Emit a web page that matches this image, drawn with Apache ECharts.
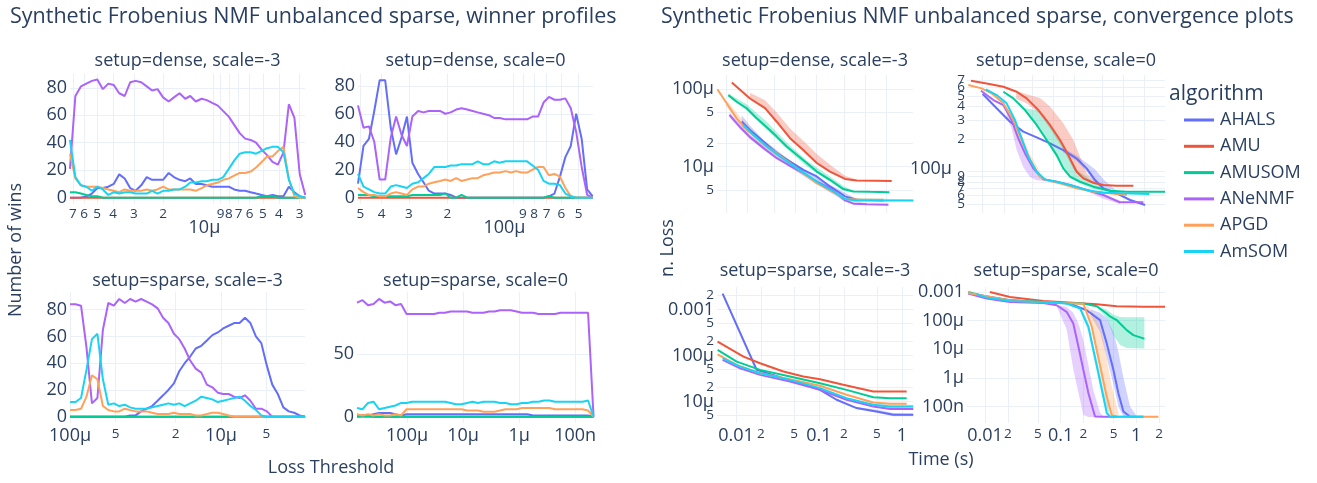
<!DOCTYPE html>
<html>
<head>
<meta charset="utf-8">
<script src="https://cdn.jsdelivr.net/npm/echarts@6/dist/echarts.min.js"></script>
<style>
  html, body { margin: 0; padding: 0; background: #ffffff; }
  #chart { width: 1317px; height: 483px; }
</style>
</head>
<body>
<div id="chart"></div>
<script>
// ---------- algorithms ----------
const algorithms = ['AHALS', 'AMU', 'AMUSOM', 'ANeNMF', 'APGD', 'AmSOM'];
const algoColors = ['#636efa', '#EF553B', '#00cc96', '#ab63fa', '#FFA15A', '#19d3f3'];

// ---------- winner profiles: loss thresholds per facet ----------
const thrDenseM3 = [7.30e-5, 6.77e-5, 6.27e-5, 5.81e-5, 5.38e-5, 4.99e-5, 4.62e-5, 4.28e-5, 3.97e-5, 3.68e-5,
  3.41e-5, 3.16e-5, 2.93e-5, 2.71e-5, 2.51e-5, 2.33e-5, 2.16e-5, 2.00e-5, 1.85e-5, 1.72e-5,
  1.59e-5, 1.47e-5, 1.37e-5, 1.27e-5, 1.17e-5, 1.09e-5, 1.01e-5, 9.34e-6, 8.66e-6, 8.02e-6,
  7.44e-6, 6.89e-6, 6.39e-6, 5.92e-6, 5.49e-6, 5.08e-6, 4.71e-6, 4.37e-6, 4.05e-6, 3.75e-6,
  3.48e-6, 3.22e-6, 2.99e-6, 2.77e-6];
const thrDenseZ = [5.13e-4, 4.84e-4, 4.57e-4, 4.32e-4, 4.08e-4, 3.85e-4, 3.63e-4, 3.43e-4, 3.24e-4, 3.06e-4,
  2.89e-4, 2.72e-4, 2.57e-4, 2.43e-4, 2.29e-4, 2.16e-4, 2.04e-4, 1.93e-4, 1.82e-4, 1.72e-4,
  1.62e-4, 1.53e-4, 1.45e-4, 1.37e-4, 1.29e-4, 1.22e-4, 1.15e-4, 1.08e-4, 1.02e-4, 9.66e-5,
  9.12e-5, 8.61e-5, 8.13e-5, 7.67e-5, 7.24e-5, 6.84e-5, 6.45e-5, 6.09e-5, 5.75e-5, 5.43e-5,
  5.13e-5, 4.84e-5, 4.57e-5, 4.31e-5];
const thrSparseM3 = [1.00e-4, 9.20e-5, 8.46e-5, 7.79e-5, 7.16e-5, 6.59e-5, 6.06e-5, 5.58e-5, 5.13e-5, 4.72e-5,
  4.34e-5, 4.00e-5, 3.68e-5, 3.38e-5, 3.11e-5, 2.86e-5, 2.63e-5, 2.42e-5, 2.23e-5, 2.05e-5,
  1.89e-5, 1.74e-5, 1.60e-5, 1.47e-5, 1.35e-5, 1.24e-5, 1.14e-5, 1.05e-5, 9.67e-6, 8.90e-6,
  8.19e-6, 7.53e-6, 6.93e-6, 6.38e-6, 5.87e-6, 5.40e-6, 4.96e-6, 4.57e-6, 4.20e-6, 3.86e-6,
  3.55e-6, 3.27e-6, 3.01e-6, 2.77e-6];
const thrSparseZ = [7.82e-4, 6.24e-4, 4.97e-4, 3.97e-4, 3.16e-4, 2.52e-4, 2.01e-4, 1.61e-4, 1.28e-4, 1.02e-4,
  8.15e-5, 6.50e-5, 5.19e-5, 4.14e-5, 3.30e-5, 2.63e-5, 2.10e-5, 1.68e-5, 1.34e-5, 1.07e-5,
  8.51e-6, 6.79e-6, 5.42e-6, 4.32e-6, 3.45e-6, 2.75e-6, 2.19e-6, 1.75e-6, 1.40e-6, 1.11e-6,
  8.88e-7, 7.09e-7, 5.65e-7, 4.51e-7, 3.60e-7, 2.87e-7, 2.29e-7, 1.82e-7, 1.46e-7, 1.16e-7,
  9.26e-8, 7.39e-8, 5.89e-8, 4.70e-8];

// ---------- winner profiles: number of wins (order = algorithms) ----------
const winsDenseM3 = [
  [0,0,0,1,3,7,7,8,10,17,14,7,5,9,15,13,13,13,18,15,13,12,14,10,10,9,8,8,8,8,6,5,5,4,3,2,1,2,1,1,8,4,1,0],
  [0,0,0,0,0,0,0,0,0,0,0,0,0,0,0,0,0,0,0,0,0,0,0,0,0,0,0,0,0,0,0,0,0,0,0,0,0,0,0,0,0,0,0,0],
  [4,4,3,2,1,1,0,0,0,0,0,0,0,0,0,0,0,0,0,0,0,0,0,0,0,0,0,0,0,0,0,0,0,0,0,1,1,1,0,0,0,0,0,0],
  [21,74,81,83,85,86,79,83,82,76,74,84,85,84,81,78,79,73,70,73,76,72,74,70,72,71,69,67,63,59,53,47,43,42,40,35,31,26,24,33,68,58,17,2],
  [32,14,9,8,8,8,7,6,5,4,6,5,5,5,6,5,6,8,6,6,6,6,6,5,7,9,10,11,13,14,16,18,18,19,22,26,30,30,34,37,14,1,0,0],
  [42,15,9,8,5,8,6,2,4,3,4,4,3,3,3,5,3,5,5,6,6,8,11,11,12,12,13,13,15,21,27,32,33,33,32,34,36,37,37,33,13,3,1,0]
];
const winsDenseZ = [
  [10,37,42,62,84,84,50,31,43,58,25,17,11,5,3,3,3,2,0,0,0,0,0,0,0,0,0,0,0,0,0,0,0,0,0,1,3,15,29,37,60,42,6,1],
  [0,0,0,0,0,0,0,0,0,0,0,0,0,0,0,0,0,0,0,0,0,0,0,0,0,0,0,0,0,0,0,0,0,0,0,0,0,0,0,0,0,0,0,0],
  [2,2,2,1,1,1,1,1,1,1,2,2,2,2,2,2,3,0,0,2,0,0,0,0,0,0,0,0,0,0,0,0,0,0,0,1,0,0,0,0,0,0,0,0],
  [66,50,51,40,13,13,43,58,45,37,58,62,61,62,62,62,60,61,63,64,63,62,61,60,59,57,57,56,56,56,56,56,58,58,68,72,70,70,71,64,47,22,2,0],
  [7,4,2,2,1,1,3,4,3,2,6,8,8,10,11,12,13,12,14,12,13,14,14,16,17,18,18,19,18,19,18,18,20,22,22,16,17,15,7,1,0,0,0,0],
  [17,8,6,4,3,3,8,9,8,7,10,11,14,17,22,22,22,23,23,24,24,24,26,24,24,26,25,26,26,26,26,26,23,20,12,10,10,9,3,1,0,0,0,0]
];
const winsSparseM3 = [
  [0,0,0,0,0,0,0,0,0,0,0,1,1,4,6,8,12,16,20,25,34,40,45,51,53,57,61,63,66,68,70,70,74,70,60,55,38,24,17,7,4,3,1,0],
  [0,0,0,0,0,0,0,0,0,0,0,0,0,0,0,0,0,0,0,0,0,0,0,0,0,0,0,0,0,0,0,0,0,0,0,0,0,0,0,0,0,0,0,0],
  [0,0,0,0,0,0,0,0,0,0,0,0,0,0,0,0,0,0,0,0,0,0,0,0,0,0,0,0,0,0,0,0,0,0,0,0,0,0,0,0,0,0,0,0],
  [84,84,83,52,10,14,65,85,83,88,85,88,86,88,86,84,81,74,70,62,58,51,42,36,33,24,22,18,17,17,15,14,16,12,6,6,4,0,0,0,0,0,0,0],
  [5,5,6,15,31,28,8,5,4,4,6,5,4,4,4,3,2,2,2,3,2,2,2,1,1,2,3,3,2,1,0,0,0,0,0,0,0,0,0,0,0,0,0,0],
  [11,11,14,35,58,62,28,9,10,8,9,7,6,6,6,7,8,9,10,9,10,8,10,12,15,14,13,11,12,13,14,15,12,8,5,1,0,0,0,0,0,0,0,0]
];
const winsSparseZ = [
  [0,1,1,2,3,3,3,2,1,2,2,2,2,2,2,2,2,2,2,2,2,2,2,2,2,2,2,2,2,2,2,2,1,1,1,1,1,1,1,1,1,1,1,0],
  [1,1,1,0,0,0,0,0,0,0,0,0,0,0,0,0,0,0,0,0,0,0,0,0,0,0,0,0,0,0,0,0,0,0,0,0,0,0,0,0,0,0,0,0],
  [0,0,0,0,0,0,0,0,0,0,0,0,0,0,0,0,0,0,0,0,0,0,0,0,0,0,0,0,0,0,0,0,0,0,0,0,0,0,0,0,0,0,0,0],
  [91,93,89,90,94,91,92,89,90,82,82,82,82,82,82,83,83,84,84,84,84,83,83,83,84,84,85,85,85,84,83,83,83,82,82,82,82,83,83,83,83,83,83,0],
  [2,1,2,1,2,1,1,2,1,6,6,6,6,6,6,6,6,6,6,6,5,5,5,4,4,4,5,6,6,6,7,7,7,7,7,7,6,6,6,6,6,6,5,0],
  [7,6,11,12,6,7,8,9,11,11,12,12,12,12,12,12,12,11,10,10,11,12,11,12,12,12,11,11,10,10,11,11,12,12,13,13,12,12,12,12,12,12,13,0]
];

// ---------- convergence: [time (s), normalized loss] per algorithm ----------
const lossDenseM3 = [
  [[0.0168,3.82e-5],[0.0221,2.98e-5],[0.0345,2.1e-5],[0.0536,1.49e-5],[0.0834,1.16e-5],[0.129,9.06e-6],[0.202,7.43e-6],[0.313,5.52e-6],[0.515,4.1e-6],[0.759,3.71e-6],[1.84,3.64e-6]],
  [[0.0121,1.22e-4],[0.0221,7.6e-5],[0.0364,5.7e-5],[0.0536,3.8e-5],[0.0834,2.33e-5],[0.129,1.64e-5],[0.202,1.11e-5],[0.313,8.6e-6],[0.515,6.9e-6],[0.759,6.6e-6],[1.47,6.55e-6],[2.42,6.5e-6]],
  [[0.0108,8.4e-5],[0.0142,6.9e-5],[0.0198,5.68e-5],[0.0276,4.22e-5],[0.0385,3.23e-5],[0.0536,2.44e-5],[0.0746,1.82e-5],[0.104,1.42e-5],[0.145,1.11e-5],[0.202,8.6e-6],[0.313,6.73e-6],[0.487,5.1e-6],[0.679,4.75e-6],[1.18,4.7e-6],[2.24,4.65e-6]],
  [[0.0112,4.66e-5],[0.0159,3.23e-5],[0.0221,2.4e-5],[0.0345,1.73e-5],[0.0536,1.28e-5],[0.0834,1.02e-5],[0.129,8.2e-6],[0.202,6.4e-6],[0.313,5.26e-6],[0.515,3.64e-6],[0.679,3.3e-6],[1.06,3.25e-6],[2.17,3.2e-6]],
  [[0.0075,1.0e-4],[0.0102,6.6e-5],[0.0142,4.2e-5],[0.0198,3.0e-5],[0.0385,1.82e-5],[0.0834,1.11e-5],[0.202,6.1e-6],[0.515,3.8e-6],[0.946,3.71e-6],[1.84,3.7e-6]],
  [[0.0178,3.46e-5],[0.0247,2.57e-5],[0.0385,1.82e-5],[0.0598,1.35e-5],[0.093,1.02e-5],[0.145,7.8e-6],[0.225,5.98e-6],[0.35,4.75e-6],[0.515,3.79e-6],[0.759,3.64e-6],[1.84,3.64e-6],[4.96,3.64e-6]]
];
const lossDenseZ = [
  [[0.01,5.22e-4],[0.0158,3.85e-4],[0.0245,2.89e-4],[0.0378,2.34e-4],[0.0586,2.07e-4],[0.0906,1.82e-4],[0.14,1.58e-4],[0.217,1.32e-4],[0.301,1.07e-4],[0.396,8.34e-5],[0.52,6.99e-5],[0.805,6.28e-5],[1.25,5.45e-5],[2.04,4.9e-5]],
  [[0.00682,6.93e-4],[0.0114,6.55e-4],[0.0197,6.1e-4],[0.0304,5.48e-4],[0.0422,4.76e-4],[0.0619,3.71e-4],[0.0906,2.7e-4],[0.126,1.96e-4],[0.165,1.42e-4],[0.217,9.96e-5],[0.27,8.65e-5],[0.375,7.88e-5],[0.52,7.5e-5],[0.805,7.4e-5],[1.39,7.4e-5]],
  [[0.0197,5.48e-4],[0.0273,4.76e-4],[0.04,3.71e-4],[0.0586,2.7e-4],[0.0813,1.96e-4],[0.113,1.42e-4],[0.14,1.07e-4],[0.175,8.95e-5],[0.242,8.05e-5],[0.375,7.24e-5],[0.647,6.65e-5],[1.12,6.5e-5],[3.92,6.5e-5]],
  [[0.00946,5.6e-4],[0.0142,4.59e-4],[0.0197,4.13e-4],[0.0258,3.0e-4],[0.0321,2.03e-4],[0.04,1.47e-4],[0.0525,1.07e-4],[0.0728,8.46e-5],[0.113,8.05e-5],[0.175,7.5e-5],[0.301,6.74e-5],[0.52,6.06e-5],[0.897,5.19e-5],[1.93,5.19e-5]],
  [[0.00625,6.32e-4],[0.00967,5.89e-4],[0.0134,5.3e-4],[0.0197,4.28e-4],[0.0273,3.0e-4],[0.0358,1.96e-4],[0.0471,1.28e-4],[0.0653,8.95e-5],[0.0813,8.34e-5],[0.126,7.77e-5],[0.217,6.99e-5],[0.375,6.5e-5],[0.647,6.28e-5],[1.12,6.06e-5]],
  [[0.0111,5.77e-4],[0.0158,5.11e-4],[0.0219,4.28e-4],[0.0288,3.0e-4],[0.0358,2.03e-4],[0.0446,1.37e-4],[0.0586,9.96e-5],[0.077,8.46e-5],[0.113,8.05e-5],[0.175,7.5e-5],[0.301,6.74e-5],[0.52,6.37e-5],[1.0,6.28e-5],[2.35,6.19e-5]]
];
const lossSparseM3 = [
  [[0.0069,2.22e-3],[0.0177,4.9e-5],[0.0223,4.3e-5],[0.0372,3.2e-5],[0.059,2.5e-5],[0.103,1.79e-5],[0.163,1.09e-5],[0.284,7.18e-6],[0.495,6.08e-6],[0.787,5.15e-6],[1.37,5.15e-6]],
  [[0.006,2.0e-4],[0.0123,9.44e-5],[0.0195,6.77e-5],[0.0372,4.47e-5],[0.0647,3.48e-5],[0.103,3.05e-5],[0.196,2.3e-5],[0.451,1.65e-5],[0.717,1.65e-5],[1.14,1.65e-5]],
  [[0.006,1.32e-4],[0.0102,7.35e-5],[0.0195,4.86e-5],[0.0447,3.48e-5],[0.103,2.5e-5],[0.215,1.79e-5],[0.451,1.24e-5],[0.717,1.18e-5],[1.14,1.18e-5]],
  [[0.0069,8.0e-5],[0.0112,5.28e-5],[0.0195,3.79e-5],[0.0447,2.71e-5],[0.103,1.79e-5],[0.215,1.09e-5],[0.451,7.8e-6],[0.717,6.84e-6],[1.37,6.84e-6]],
  [[0.006,1.06e-4],[0.0102,6.23e-5],[0.0195,4.11e-5],[0.0447,3.05e-5],[0.103,2.19e-5],[0.215,1.4e-5],[0.451,9.53e-6],[0.717,8.9e-6],[1.14,8.9e-6]],
  [[0.0069,8.69e-5],[0.0112,5.73e-5],[0.0195,4.11e-5],[0.0447,2.95e-5],[0.103,1.95e-5],[0.215,1.18e-5],[0.451,8.49e-6],[0.717,7.8e-6],[1.37,7.8e-6]]
];
const lossSparseZ = [
  [[0.00602,9.0e-4],[0.0214,5.15e-4],[0.0591,4.5e-4],[0.133,3.94e-4],[0.221,2.31e-4],[0.332,1.04e-4],[0.407,1.6e-5],[0.499,1.89e-6],[0.58,2.92e-7],[0.676,6.7e-8],[0.828,4.4e-8],[1.24,4.4e-8]],
  [[0.0116,1.0e-3],[0.0214,6.7e-4],[0.0591,4.88e-4],[0.163,4.15e-4],[0.3,3.73e-4],[0.552,3.18e-4],[1.24,3.02e-4],[2.4,3.02e-4]],
  [[0.00602,1.0e-3],[0.0105,6.7e-4],[0.0214,5.15e-4],[0.0591,4.5e-4],[0.12,4.15e-4],[0.2,3.94e-4],[0.3,3.18e-4],[0.407,1.77e-4],[0.45,1.4e-4],[0.499,1.19e-4],[0.55,1.05e-4],[0.611,7.94e-5],[0.68,6.0e-5],[0.748,4.66e-5],[0.916,3.12e-5],[1.24,2.39e-5],[1.28,2.33e-5]],
  [[0.00602,8.77e-4],[0.0105,5.88e-4],[0.0214,4.5e-4],[0.0591,4.15e-4],[0.0887,3.44e-4],[0.12,2.02e-4],[0.147,7.94e-5],[0.172,1.22e-5],[0.2,1.89e-6],[0.233,2.92e-7],[0.285,4.5e-8],[0.367,4.4e-8],[0.552,4.4e-8]],
  [[0.00602,9.25e-4],[0.0214,5.0e-4],[0.0591,4.4e-4],[0.2,3.9e-4],[0.258,6.1e-5],[0.3,9.4e-6],[0.349,1.45e-6],[0.407,2.23e-7],[0.474,5.0e-8],[0.552,4.4e-8],[1.96,4.4e-8]],
  [[0.00776,8.3e-4],[0.0105,6.37e-4],[0.0214,4.88e-4],[0.0591,4.5e-4],[0.12,3.94e-4],[0.181,2.64e-4],[0.233,6.08e-5],[0.271,9.38e-6],[0.316,1.45e-6],[0.367,2.23e-7],[0.407,5.9e-8],[0.45,4.4e-8],[1.24,4.4e-8]]
];

// ---------- convergence spread: [algorithm index, [[time, low, high], ...]] ----------
const bandDenseM3 = [
  [1, [[0.0221,7.4e-5,9.0e-5],[0.0364,5.5e-5,7.2e-5],[0.0536,3.7e-5,5.0e-5],[0.0834,2.25e-5,3.1e-5],[0.129,1.6e-5,2.15e-5],[0.202,1.08e-5,1.45e-5],[0.313,8.4e-6,1.05e-5],[0.515,6.8e-6,7.6e-6],[0.759,6.5e-6,6.8e-6]]],
  [2, [[0.0108,8.0e-5,8.8e-5],[0.0198,5.3e-5,6.4e-5],[0.0385,3.0e-5,3.8e-5],[0.0746,1.7e-5,2.05e-5],[0.145,1.0e-5,1.2e-5],[0.313,6.3e-6,7.4e-6],[0.487,4.9e-6,5.6e-6],[0.679,4.65e-6,4.85e-6]]],
  [0, [[0.0168,3.3e-5,4.6e-5],[0.0221,2.7e-5,3.4e-5],[0.0345,1.95e-5,2.2e-5],[0.0834,1.1e-5,1.2e-5],[0.313,5.3e-6,5.8e-6],[0.759,3.6e-6,3.8e-6]]],
  [4, [[0.0102,6.0e-5,7.2e-5],[0.0142,3.9e-5,5.0e-5],[0.0198,2.6e-5,3.5e-5],[0.0385,1.65e-5,2.0e-5],[0.0834,1.0e-5,1.2e-5],[0.202,5.8e-6,6.4e-6]]],
  [3, [[0.0112,4.3e-5,5.0e-5],[0.0221,2.25e-5,2.55e-5],[0.0834,9.7e-6,1.07e-5],[0.515,3.5e-6,3.8e-6],[1.06,3.15e-6,3.35e-6]]],
  [5, [[0.0178,3.3e-5,3.6e-5],[0.093,9.8e-6,1.06e-5],[0.515,3.65e-6,3.95e-6],[4.9,3.55e-6,3.75e-6]]]
];
const bandDenseZ = [
  [1, [[0.03,4.7e-4,5.6e-4],[0.0422,4.3e-4,5.2e-4],[0.0653,3.4e-4,4.8e-4],[0.0906,2.5e-4,4.0e-4],[0.14,1.6e-4,2.8e-4],[0.195,1.05e-4,1.96e-4],[0.242,9.0e-5,1.37e-4],[0.301,8.2e-5,9.6e-5],[0.418,7.5e-5,7.9e-5]]],
  [2, [[0.04,3.6e-4,3.85e-4],[0.0586,2.6e-4,3.7e-4],[0.0906,1.7e-4,2.7e-4],[0.126,1.18e-4,1.96e-4],[0.156,9.5e-5,1.47e-4],[0.217,8.0e-5,1.04e-4],[0.35,7.0e-5,8.3e-5],[0.6,6.4e-5,6.8e-5]]],
  [3, [[0.022,3.2e-4,3.6e-4],[0.0258,2.5e-4,3.0e-4],[0.0304,1.58e-4,2.35e-4],[0.0378,1.1e-4,1.6e-4],[0.0471,8.9e-5,1.2e-4],[0.0586,8.3e-5,1.0e-4],[0.0728,8.2e-5,8.6e-5],[0.175,7.3e-5,7.6e-5],[0.301,6.6e-5,6.9e-5],[0.52,5.6e-5,6.2e-5],[0.897,5.0e-5,5.4e-5]]],
  [0, [[0.14,1.5e-4,1.65e-4],[0.217,1.25e-4,1.4e-4],[0.301,1.0e-4,1.2e-4],[0.396,7.8e-5,1.05e-4],[0.52,6.8e-5,8.5e-5],[0.805,6.0e-5,6.6e-5]]],
  [4, [[0.0273,2.4e-4,3.1e-4],[0.0358,1.7e-4,2.2e-4],[0.0471,1.15e-4,1.45e-4],[0.0653,8.5e-5,1.0e-4]]]
];
const bandSparseM3 = [
  [0, [[0.284,6.8e-6,7.6e-6],[0.495,5.7e-6,6.6e-6],[0.787,4.8e-6,5.6e-6],[1.37,4.8e-6,5.5e-6]]],
  [5, [[0.451,8.0e-6,9.0e-6],[0.717,7.3e-6,8.5e-6],[1.37,7.3e-6,8.5e-6]]],
  [3, [[0.451,7.4e-6,8.2e-6],[1.37,6.5e-6,7.2e-6]]]
];
const bandSparseZ = [
  [2, [[0.3,3.0e-4,3.4e-4],[0.407,1.2e-4,2.4e-4],[0.499,3.0e-5,1.6e-4],[0.611,1.4e-5,1.35e-4],[0.75,1.1e-5,1.3e-4],[1.28,1.07e-5,1.3e-4]]],
  [3, [[0.0887,3.2e-4,3.5e-4],[0.12,5e-5,3.0e-4],[0.147,2.0e-6,1.9e-4],[0.172,3.0e-7,8.0e-5],[0.2,5.0e-8,2.0e-5],[0.233,4.3e-8,2.7e-6],[0.271,4.3e-8,3.7e-7],[0.332,4.3e-8,6e-8],[0.367,4.3e-8,4.6e-8]]],
  [0, [[0.25,1.5e-4,2.5e-4],[0.332,4e-5,1.9e-4],[0.407,5e-6,1.2e-4],[0.499,6e-7,4e-5],[0.58,1e-7,8e-6],[0.676,4.5e-8,1e-6],[0.828,4.3e-8,1e-7],[1.0,4.3e-8,4.8e-8]]],
  [4, [[0.22,2.5e-4,3.5e-4],[0.258,5e-5,2.2e-4],[0.3,6e-6,1.2e-4],[0.349,8e-7,4e-5],[0.407,1e-7,5e-6],[0.474,4.5e-8,5e-7],[0.58,4.3e-8,6e-8]]],
  [5, [[0.181,2.3e-4,3.0e-4],[0.233,4e-5,9e-5],[0.271,6e-6,1.5e-5],[0.316,9e-7,2.5e-6],[0.367,1.4e-7,4e-7],[0.45,4.3e-8,5e-8]]]
];

// ---------- tick values and labels ----------
const winsTicks80 = [0, 20, 40, 60, 80];
const winsTicks50 = [0, 50];
const thrTicksDenseM3 = [7e-5, 6e-5, 5e-5, 4e-5, 3e-5, 2e-5, 1e-5, 9e-6, 8e-6, 7e-6, 6e-6, 5e-6, 4e-6, 3e-6];
const thrLabelsDenseM3 = ['7', '6', '5', '4', '3', '2', '10μ', '9', '8', '7', '6', '5', '4', '3'];
const thrTicksDenseZ = [5e-4, 4e-4, 3e-4, 2e-4, 1e-4, 9e-5, 8e-5, 7e-5, 6e-5, 5e-5];
const thrLabelsDenseZ = ['5', '4', '3', '2', '100μ', '9', '8', '7', '6', '5'];
const thrTicksSparseM3 = [1e-4, 5e-5, 2e-5, 1e-5, 5e-6];
const thrLabelsSparseM3 = ['100μ', '5', '2', '10μ', '5'];
const thrTicksSparseZ = [1e-4, 1e-5, 1e-6, 1e-7];
const thrLabelsSparseZ = ['100μ', '10μ', '1μ', '100n'];

const lossTicksDenseM3 = [1e-4, 5e-5, 2e-5, 1e-5, 5e-6];
const lossLabelsDenseM3 = ['100μ', '5', '2', '10μ', '5'];
const lossTicksDenseZ = [7e-4, 6e-4, 5e-4, 4e-4, 3e-4, 2e-4, 1e-4, 9e-5, 8e-5, 7e-5, 6e-5, 5e-5];
const lossLabelsDenseZ = ['7', '6', '5', '4', '3', '2', '100μ', '9', '8', '7', '6', '5'];
const lossTicksSparseM3 = [2e-3, 1e-3, 5e-4, 2e-4, 1e-4, 5e-5, 2e-5, 1e-5, 5e-6];
const lossLabelsSparseM3 = ['2', '0.001', '5', '2', '100μ', '5', '2', '10μ', '5'];
const lossTicksSparseZ = [1e-3, 1e-4, 1e-5, 1e-6, 1e-7];
const lossLabelsSparseZ = ['0.001', '100μ', '10μ', '1μ', '100n'];
const timeTicks = [0.01, 0.02, 0.05, 0.1, 0.2, 0.5, 1, 2];
const timeLabels = ['0.01', '2', '5', '0.1', '2', '5', '1', '2'];

// ---------- styling ----------
const FONT = '"Open Sans", verdana, arial, sans-serif';
const INK = '#2a3f5f';
const GRIDLINE = '#ebf0f8';
const L10 = Math.log10;

// horizontal axes: labels hang below the plot
const richX = {
  mj: { fontSize: 18, fontFamily: FONT, color: INK },
  mn: { fontSize: 13.5, fontFamily: FONT, color: INK },
  lo: { fontSize: 18, fontFamily: FONT, color: INK, padding: [11, 17, 0, 0] }
};
// vertical axes: tight line boxes so closely packed log labels all stay visible
const richY = {
  mj: { fontSize: 18, fontFamily: FONT, color: INK, lineHeight: 4 },
  mn: { fontSize: 13.5, fontFamily: FONT, color: INK, lineHeight: 4 },
  mjr: { fontSize: 18, fontFamily: FONT, color: INK, lineHeight: 4, padding: [0, 13, 6, 0] }
};

// axis with ticks/gridlines at given positions (already in axis units);
// blank end labels at min/max absorb the library's edge-label overlap pruning
function tickAxis(gridIndex, min, max, pos, texts, isLog, majorKey, margin, rich, inverse) {
  const isMajor = pos.map(p => !isLog || Math.abs(p - Math.round(p)) < 1e-9);
  const labelPos = [min].concat(pos, [max]);
  return {
    type: 'value', gridIndex, min, max, inverse: !!inverse,
    axisLine: { show: false },
    axisTick: { show: false, customValues: pos },
    splitLine: { show: true, lineStyle: { color: GRIDLINE, width: 1 } },
    axisLabel: {
      show: !!texts, customValues: labelPos, margin: margin, rich: rich,
      hideOverlap: false,
      fontFamily: FONT, color: INK, fontSize: 18,
      formatter: v => {
        const i = pos.findIndex(c => Math.abs(c - v) < 1e-6);
        if (i < 0 || !texts) return '';
        return '{' + (isMajor[i] ? (majorKey || 'mj') : 'mn') + '|' + texts[i] + '}';
      }
    }
  };
}

// ---------- layout of the eight facets ----------
const grids = [
  { left: 70,  top: 73.6,  width: 235, height: 130 },   // winners dense -3
  { left: 358, top: 73.6,  width: 235, height: 130 },   // winners dense 0
  { left: 70,  top: 291.7, width: 235, height: 131 },   // winners sparse -3
  { left: 357, top: 291.7, width: 236.5, height: 131 }, // winners sparse 0
  { left: 717, top: 75,  width: 196, height: 138 },     // convergence dense -3
  { left: 967, top: 75,  width: 198, height: 138 },     // convergence dense 0
  { left: 717, top: 287, width: 196, height: 136 },     // convergence sparse -3
  { left: 967, top: 287, width: 198, height: 136 }      // convergence sparse 0
].map(g => Object.assign({ containLabel: false, outerBoundsMode: 'none' }, g));

const xAxes = [
  tickAxis(0, -5.556, -4.137, thrTicksDenseM3.map(L10), thrLabelsDenseM3, true, 'lo', 4, richX, true),
  tickAxis(1, -4.367, -3.290, thrTicksDenseZ.map(L10), thrLabelsDenseZ, true, 'lo', 4, richX, true),
  tickAxis(2, -5.557, -3.9995, thrTicksSparseM3.map(L10), thrLabelsSparseM3, true, 'mj', 4, richX, true),
  tickAxis(3, -7.327, -3.107, thrTicksSparseZ.map(L10), thrLabelsSparseZ, true, 'mj', 4, richX, true),
  tickAxis(4, -2.13, 0.69, timeTicks.map(L10), null, true, 'mj', 4, richX),
  tickAxis(5, -2.223, 0.593, timeTicks.map(L10), null, true, 'mj', 4, richX),
  tickAxis(6, -2.229, 0.133, timeTicks.map(L10), timeLabels, true, 'mj', 4, richX),
  tickAxis(7, -2.238, 0.38, timeTicks.map(L10), timeLabels, true, 'mj', 4, richX)
];
const yAxes = [
  tickAxis(0, -4.3, 90.3, winsTicks80, winsTicks80.map(String), false, 'mj', 3, richY),
  tickAxis(1, -4.2, 88.7, winsTicks80, winsTicks80.map(String), false, 'mj', 3, richY),
  tickAxis(2, -4.45, 93.45, winsTicks80, winsTicks80.map(String), false, 'mj', 3, richY),
  tickAxis(3, -4.75, 99.75, winsTicks50, winsTicks50.map(String), false, 'mj', 3, richY),
  tickAxis(4, -5.602, -3.815, lossTicksDenseM3.map(L10), lossLabelsDenseM3, true, 'mj', 3, richY),
  tickAxis(5, -4.384, -3.106, lossTicksDenseZ.map(L10), lossLabelsDenseZ, true, 'mjr', 2, richY),
  tickAxis(6, -5.468, -2.511, lossTicksSparseM3.map(L10), lossLabelsSparseM3, true, 'mj', 3, richY),
  tickAxis(7, -7.577, -2.826, lossTicksSparseZ.map(L10), lossLabelsSparseZ, true, 'mj', 3, richY)
];

// ---------- series ----------
const series = [];

function hexToRgba(hex, a) {
  const n = parseInt(hex.slice(1), 16);
  return 'rgba(' + (n >> 16 & 255) + ',' + (n >> 8 & 255) + ',' + (n & 255) + ',' + a + ')';
}

function addLine(axisIndex, k, data) {
  series.push({
    type: 'line', name: algorithms[k], xAxisIndex: axisIndex, yAxisIndex: axisIndex,
    data: data, showSymbol: false, symbol: 'none', clip: true, z: 3,
    color: algoColors[k], itemStyle: { color: algoColors[k] },
    lineStyle: { color: algoColors[k], width: 2 }, emphasis: { disabled: true }
  });
}

// winner profiles
[[0, thrDenseM3, winsDenseM3], [1, thrDenseZ, winsDenseZ], [2, thrSparseM3, winsSparseM3], [3, thrSparseZ, winsSparseZ]]
  .forEach(([ax, thr, wins]) => {
    wins.forEach((vals, k) => addLine(ax, k, thr.map((t, i) => [L10(t), vals[i]])));
  });

// convergence spreads (drawn beneath the lines)
[[4, bandDenseM3], [5, bandDenseZ], [6, bandSparseM3], [7, bandSparseZ]].forEach(([ax, bands]) => {
  bands.forEach(([k, pts]) => {
    series.push({
      type: 'custom', xAxisIndex: ax, yAxisIndex: ax, silent: true, clip: true, z: 1,
      data: [[L10(pts[0][0]), L10(pts[0][2])]],
      renderItem: (params, api) => {
        if (params.dataIndex !== 0) return null;
        const upper = pts.map(p => api.coord([L10(p[0]), L10(p[2])]));
        const lower = pts.map(p => api.coord([L10(p[0]), L10(p[1])])).reverse();
        return { type: 'polygon', shape: { points: upper.concat(lower) },
                 style: { fill: hexToRgba(algoColors[k], 0.3), stroke: null } };
      }
    });
  });
});

// convergence medians
[[4, lossDenseM3], [5, lossDenseZ], [6, lossSparseM3], [7, lossSparseZ]].forEach(([ax, lines]) => {
  lines.forEach((pts, k) => addLine(ax, k, pts.map(p => [L10(p[0]), L10(p[1])])));
});

// ---------- titles and annotations ----------
function txt(text, x, y, size, align, rotation) {
  return {
    type: 'text', x: x, y: y, rotation: rotation || 0, silent: true,
    style: { text: text, fill: INK, font: size + 'px ' + FONT, align: align || 'center', verticalAlign: 'middle' }
  };
}
const graphics = [
  txt('Synthetic Frobenius NMF unbalanced sparse, winner profiles', 10, 17, 21.5, 'left'),
  txt('Synthetic Frobenius NMF unbalanced sparse, convergence plots', 661, 17, 21.3, 'left'),
  txt('setup=dense, scale=-3', 187.5, 60.5, 18),
  txt('setup=dense, scale=0', 475.5, 60.5, 18),
  txt('setup=sparse, scale=-3', 187.5, 280.5, 18),
  txt('setup=sparse, scale=0', 475.5, 280.5, 18),
  txt('setup=dense, scale=-3', 815, 60.5, 18),
  txt('setup=dense, scale=0', 1066, 60.5, 18),
  txt('setup=sparse, scale=-3', 815, 270.5, 18),
  txt('setup=sparse, scale=0', 1066, 270.5, 18),
  txt('Number of wins', 16, 250, 18, 'center', Math.PI / 2),
  txt('Loss Threshold', 331, 468, 18),
  txt('n. Loss', 668, 248, 18, 'center', Math.PI / 2),
  txt('Time (s)', 941, 460, 18),
  txt('algorithm', 1169, 94, 21, 'left')
];

const chart = echarts.init(document.getElementById('chart'), null, { renderer: 'canvas' });
chart.setOption({
  animation: false,
  backgroundColor: '#ffffff',
  textStyle: { fontFamily: FONT, color: INK },
  grid: grids,
  xAxis: xAxes,
  yAxis: yAxes,
  legend: {
    orient: 'vertical', left: 1179, top: 106,
    icon: 'rect', itemWidth: 30, itemHeight: 3, itemGap: 8.3,
    data: algorithms,
    textStyle: { fontSize: 18, fontFamily: FONT, color: INK, padding: [0, 0, 0, 1] }
  },
  graphic: graphics,
  series: series
});
</script>
</body>
</html>
